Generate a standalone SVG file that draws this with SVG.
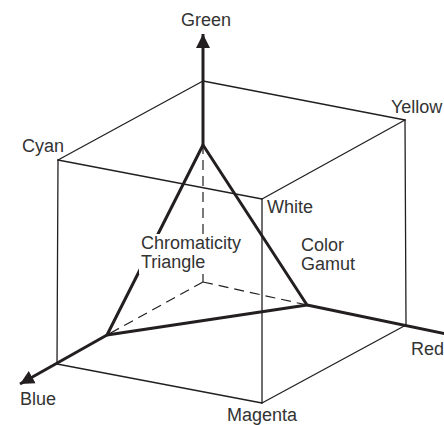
<svg xmlns="http://www.w3.org/2000/svg" width="444" height="425" viewBox="0 0 444 425">
<style>
.thin{stroke:#231f20;stroke-width:1.3;fill:none;stroke-linecap:round}
.thick{stroke:#231f20;stroke-width:3;fill:none;stroke-linejoin:round}
.dash{stroke:#231f20;stroke-width:1.2;fill:none;stroke-dasharray:10 6}
text{font-family:"Liberation Sans",Arial,sans-serif;font-size:18px;fill:#333333}
</style>
<defs>
<marker id="arr" markerUnits="userSpaceOnUse" markerWidth="16" markerHeight="16" refX="14" refY="7" orient="auto" viewBox="0 0 16 14">
<path d="M0,0 L14,7 L0,14 Z" fill="#231f20"/>
</marker>
</defs>
<rect width="444" height="425" fill="#ffffff"/>
<g id="connectors">
<g id="cube-edges">
<line class="thin" x1="203" y1="81" x2="58" y2="160"/>
<line class="thin" x1="203" y1="81" x2="405" y2="120"/>
<line class="thin" x1="58" y1="160" x2="262" y2="199"/>
<line class="thin" x1="405" y1="120" x2="262" y2="199"/>
<line class="thin" x1="58" y1="160" x2="57" y2="364"/>
<line class="thin" x1="262" y1="199" x2="262" y2="403"/>
<line class="thin" x1="405" y1="120" x2="406" y2="325"/>
<line class="thin" x1="57" y1="364" x2="262" y2="403"/>
<line class="thin" x1="262" y1="403" x2="406" y2="325"/>
</g>
<g id="hidden-axes">
<line class="dash" x1="203" y1="282" x2="203" y2="145"/>
<line class="dash" x1="203" y1="282" x2="107" y2="335"/>
<line class="dash" x1="203" y1="282" x2="307" y2="305"/>
</g>
<g id="axes">
<line class="thick" x1="203" y1="145" x2="203" y2="34" marker-end="url(#arr)"/>
<line class="thick" x1="107" y1="335" x2="20" y2="384" marker-end="url(#arr)"/>
<line class="thick" x1="307" y1="305" x2="446" y2="334"/>
</g>
<g id="triangle">
<polygon class="thick" points="203,145 107,335 307,305"/>
</g>
</g>
<g id="node-green"><text x="181" y="26">Green</text></g>
<g id="node-cyan"><text x="22" y="152">Cyan</text></g>
<g id="node-yellow"><text x="391" y="113">Yellow</text></g>
<g id="node-white"><text x="267" y="213">White</text></g>
<g id="node-chromaticity"><rect x="139" y="234" width="110" height="40" fill="#ffffff"/><text x="141" y="249">Chromaticity</text><text x="141" y="268">Triangle</text></g>
<g id="node-gamut"><text x="301" y="251">Color</text><text x="301" y="270">Gamut</text></g>
<g id="node-blue"><text x="20" y="405">Blue</text></g>
<g id="node-magenta"><text x="227" y="421">Magenta</text></g>
<g id="node-red"><text x="411" y="355">Red</text></g>
</svg>
